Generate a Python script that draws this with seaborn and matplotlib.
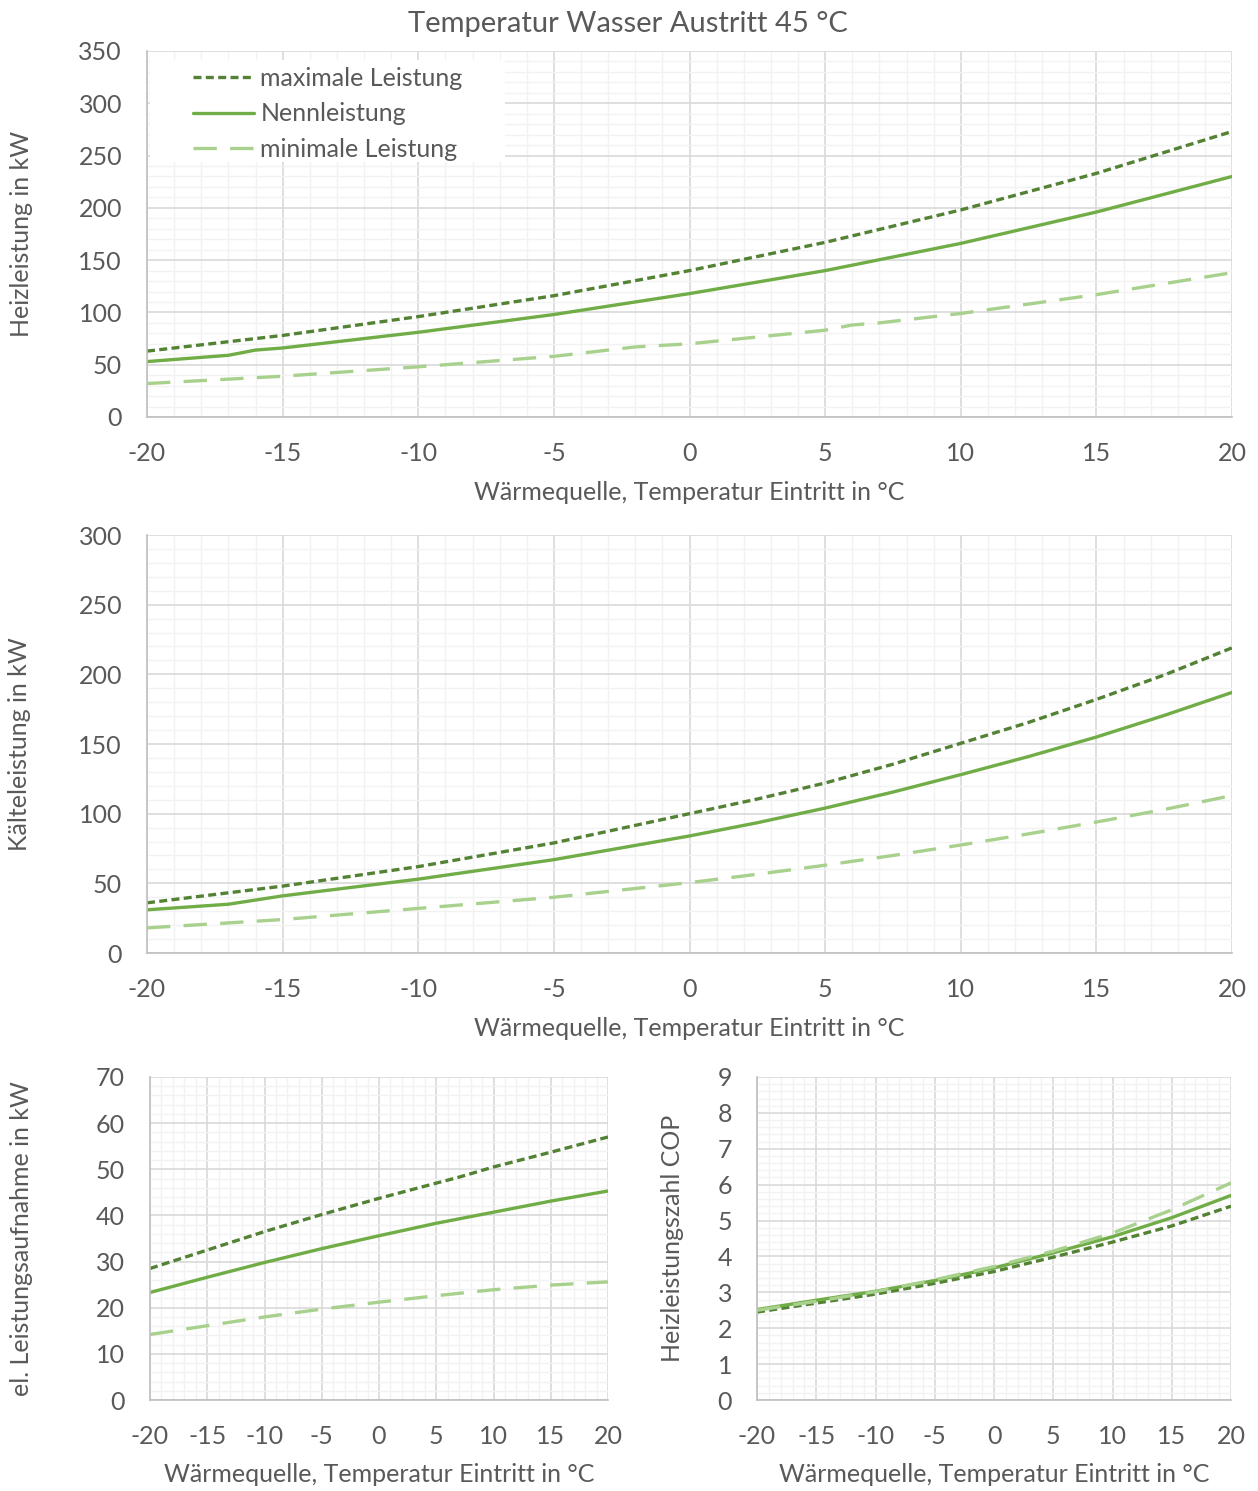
import numpy as np
import pandas as pd
import matplotlib.pyplot as plt
from matplotlib.ticker import MultipleLocator
from matplotlib.patches import Rectangle
import seaborn as sns

# Heizleistung (kW)
heiz_max_x = [-20, -15, -10, -5, 0, 5, 10, 15, 20]
heiz_max = [63, 78, 96, 116, 140, 167, 198, 233, 273]
heiz_nenn_x = [-20, -17, -16, -15, -10, -5, 0, 5, 10, 15, 20]
heiz_nenn = [53, 59, 64, 66, 81, 98, 118, 140, 166, 196, 230]
heiz_min_x = [-20, -15, -10, -5, -2, 0, 5, 6, 7, 10, 15, 20]
heiz_min = [32, 39, 48, 58, 67, 70, 83, 88, 90, 99, 117, 138]

# Kälteleistung (kW)
kaelte_max_x = [-20, -15, -10, -5, 0, 2.5, 5, 7.5, 10, 12.5, 15, 17.5, 20]
kaelte_max = [36, 48, 62, 79, 100, 110.5, 122, 135.5, 150.5, 165.5, 182, 199.5, 219]
kaelte_nenn_x = [-20, -17, -15, -10, -5, 0, 2.5, 5, 7.5, 10, 12.5, 15, 17.5, 20]
kaelte_nenn = [31, 35, 41, 53, 67, 84, 93.5, 104, 115.5, 128, 141, 155, 170.5, 187]
kaelte_min_x = [-20, -15, -10, -5, 0, 2.5, 5, 7.5, 10, 12.5, 15, 17.5, 20]
kaelte_min = [18, 24, 32, 40, 50.5, 56.5, 63, 70, 77.5, 85.5, 94, 103, 113]

# el. Leistungsaufnahme (kW)
el_max_x = [-20, -15, -10, -5, 0, 5, 7, 10, 15, 20]
el_max = [28.5, 32.5, 36.5, 40.2, 43.7, 47.0, 48.3, 50.5, 53.7, 57.0]
el_nenn_x = [-20, -15, -10, -5, 0, 5, 10, 15, 20]
el_nenn = [23.3, 26.6, 29.8, 32.8, 35.6, 38.3, 40.7, 43.1, 45.3]
el_min_x = [-20, -15, -10, -5, 0, 5, 10, 15, 20]
el_min = [14.2, 16.1, 18.0, 19.7, 21.2, 22.6, 23.9, 24.9, 25.6]

# COP
cop_x = [-20, -15, -10, -5, 0, 5, 10, 15, 20]
cop_max = [2.45, 2.70, 2.95, 3.25, 3.58, 3.98, 4.40, 4.85, 5.40]
cop_nenn = [2.52, 2.78, 3.03, 3.33, 3.68, 4.10, 4.55, 5.08, 5.70]
cop_min = [2.50, 2.75, 3.02, 3.35, 3.72, 4.15, 4.65, 5.30, 6.05]

labels = ['maximale Leistung', 'Nennleistung', 'minimale Leistung']
xlabel = 'Wärmequelle, Temperatur Eintritt in °C'

c_max = '#548235'
c_nenn = '#70AD47'
c_min = '#A9D18E'
txt = '#595959'
fs = 18

sns.set_theme(style='white')
plt.rcParams['font.family'] = ['Lato', 'DejaVu Sans']
plt.rcParams['axes.unicode_minus'] = False

fig = plt.figure(figsize=(12.58, 14.91), dpi=100)
W, H = 1258, 1491


def axes_px(l, t, r, b):
    return fig.add_axes([l / W, 1 - b / H, (r - l) / W, (b - t) / H])


def draw(ax, series, ymax, ymaj, ymin_step, xmaj, ylab, ylab_x, xlab_y):
    dash_list = [(2.4, 1.3), None, (7, 4)]
    colors = [c_max, c_nenn, c_min]
    for (xs, ys), lab, col, dsh in zip(series, labels, colors, dash_list):
        df = pd.DataFrame({'x': xs, 'y': ys})
        sns.lineplot(data=df, x='x', y='y', ax=ax, color=col,
                     linewidth=2.4, label=lab, legend=False)
        if dsh is not None:
            ax.lines[-1].set_dashes(dsh)
            ax.lines[-1].set_dash_capstyle('butt')
    ax.set_xlim(-20, 20)
    ax.set_ylim(0, ymax)
    ax.xaxis.set_major_locator(MultipleLocator(xmaj))
    ax.xaxis.set_minor_locator(MultipleLocator(1))
    ax.yaxis.set_major_locator(MultipleLocator(ymaj))
    ax.yaxis.set_minor_locator(MultipleLocator(ymin_step))
    ax.grid(which='major', color='#D9D9D9', linewidth=1.2)
    ax.grid(which='minor', color='#F2F2F2', linewidth=1.0)
    ax.set_axisbelow(True)
    for s in ['top', 'right']:
        ax.spines[s].set_visible(False)
    for s in ['left', 'bottom']:
        ax.spines[s].set_color('#BFBFBF')
        ax.spines[s].set_linewidth(1.2)
    ax.tick_params(which='major', length=7, width=1.2, color='#BFBFBF',
                   pad=11, labelsize=fs, labelcolor=txt)
    ax.tick_params(which='minor', length=0)
    ax.set_xlabel(xlabel, fontsize=fs, color=txt, va='center')
    ax.set_ylabel(ylab, fontsize=fs, color=txt, va='center')
    bb = ax.get_position()
    ax.yaxis.set_label_coords((ylab_x / W - bb.x0) / bb.width, 0.5)
    ax.xaxis.set_label_coords(0.5, ((1 - xlab_y / H) - bb.y0) / bb.height)


ax1 = axes_px(147, 51, 1232, 417)
draw(ax1, [(heiz_max_x, heiz_max), (heiz_nenn_x, heiz_nenn), (heiz_min_x, heiz_min)],
     350, 50, 10, 5, 'Heizleistung in kW', 22, 492)
# white background of the legend area
ax1.add_patch(Rectangle(((150 - 147) / 1085, (417 - 162) / 366),
                        (505 - 150) / 1085, (162 - 60) / 366,
                        transform=ax1.transAxes, facecolor='white',
                        edgecolor='none', zorder=1.5))
leg = ax1.legend(loc='upper left',
                 bbox_to_anchor=((183 - 147) / 1085, (417 - 57) / 366),
                 frameon=False, fontsize=fs, handlelength=2.45,
                 handletextpad=0.25, labelspacing=0.5, borderpad=0.4,
                 borderaxespad=0.0)
for t in leg.get_texts():
    t.set_color(txt)
ax1.set_title('Temperatur Wasser Austritt 45 °C', fontsize=21, color=txt,
              x=(628 - 147) / 1085, pad=14)

ax2 = axes_px(147, 535, 1232, 953)
draw(ax2, [(kaelte_max_x, kaelte_max), (kaelte_nenn_x, kaelte_nenn), (kaelte_min_x, kaelte_min)],
     300, 50, 10, 5, 'Kälteleistung in kW', 20, 1028)

ax3 = axes_px(150, 1077, 608, 1400)
draw(ax3, [(el_max_x, el_max), (el_nenn_x, el_nenn), (el_min_x, el_min)],
     70, 10, 2, 5, 'el. Leistungsaufnahme in kW', 22, 1475)

ax4 = axes_px(757, 1077, 1231, 1400)
draw(ax4, [(cop_x, cop_max), (cop_x, cop_nenn), (cop_x, cop_min)],
     9, 1, 0.2, 5, 'Heizleistungszahl COP', 673, 1475)

fig.savefig('out.png', dpi=100, facecolor='white')
